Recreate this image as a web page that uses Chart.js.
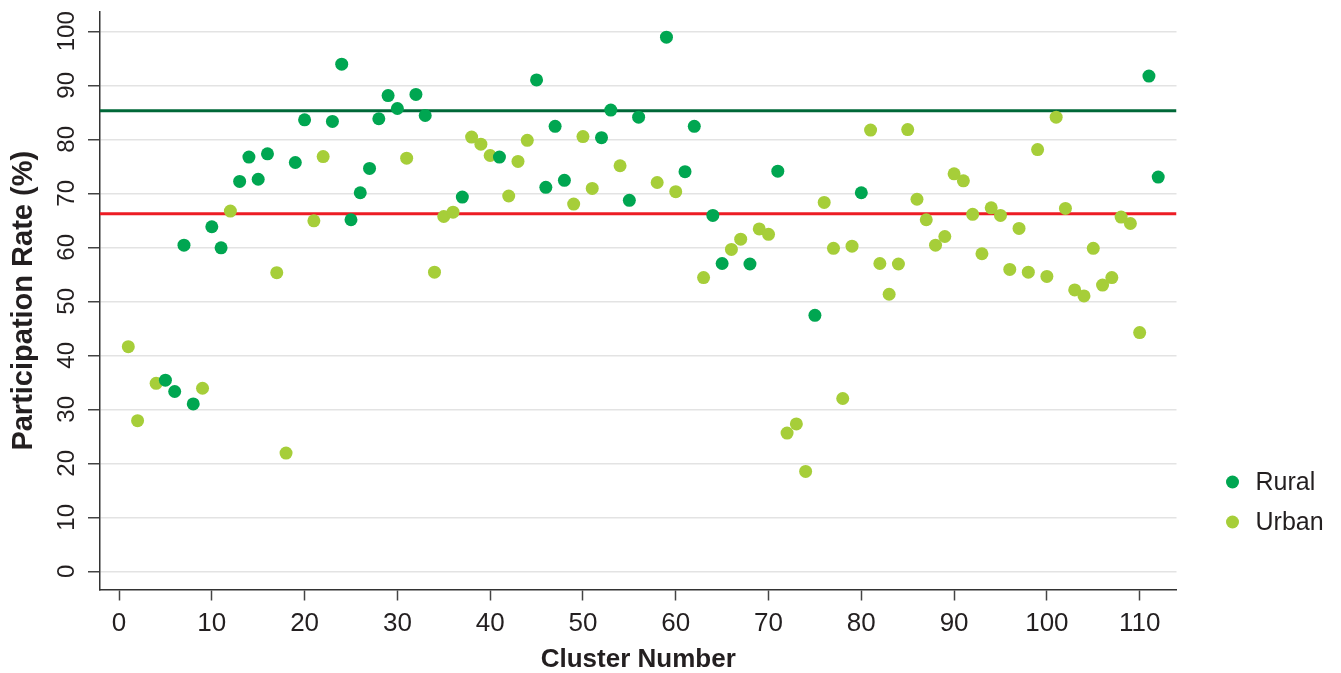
<!DOCTYPE html>
<html lang="en">
<head>
    <meta charset="UTF-8">
    <title>Participation Rate by Cluster</title>
    <script src="https://cdn.jsdelivr.net/npm/chart.js"></script>
    <style>
        body { margin: 0; background: #fff; }
    </style>
</head>
<body>
    <canvas id="rateChart" width="1341" height="673"></canvas>

<script>
// Rural clusters and their participation rate (%)
const ruralClusters = [5, 6, 7, 8, 10, 11, 13, 14, 15, 16, 19, 20, 23, 24, 25, 26, 27, 28, 29, 30,
    32, 33, 37, 41, 45, 46, 47, 48, 52, 53, 55, 56, 59, 61, 62, 64, 65, 68, 71, 75, 80, 111, 112];
const ruralRates = [35.4, 33.3, 60.4, 31.0, 63.8, 59.9, 72.2, 76.7, 72.6, 77.3, 75.7, 83.6, 83.3, 93.9, 65.1, 70.1, 74.6, 83.8, 88.1, 85.7,
    88.3, 84.4, 69.3, 76.7, 91.0, 71.1, 82.4, 72.4, 80.3, 85.4, 68.7, 84.1, 98.9, 74.0, 82.4, 65.9, 57.0, 56.9, 74.1, 47.4, 70.1, 91.7, 73.0];

// Urban clusters and their participation rate (%)
const urbanClusters = [1, 2, 4, 9, 12, 17, 18, 21, 22, 31, 34, 35, 36, 38, 39, 40, 42, 43, 44, 49,
    50, 51, 54, 58, 60, 63, 66, 67, 69, 70, 72, 73, 74, 76, 77, 78, 79, 81, 82, 83,
    84, 85, 86, 87, 88, 89, 90, 91, 92, 93, 94, 95, 96, 97, 98, 99, 100, 101, 102, 103,
    104, 105, 106, 107, 108, 109, 110];
const urbanRates = [41.6, 27.9, 34.8, 33.9, 66.7, 55.3, 21.9, 64.9, 76.8, 76.5, 55.4, 65.7, 66.5, 80.4, 79.1, 77.0, 69.5, 75.9, 79.8, 68.0,
    80.5, 70.9, 75.1, 72.0, 70.3, 54.4, 59.6, 61.5, 63.4, 62.4, 25.6, 27.3, 18.5, 68.3, 59.8, 32.0, 60.2, 81.7, 57.0, 51.3,
    56.9, 81.8, 68.9, 65.1, 60.4, 62.0, 73.6, 72.3, 66.1, 58.8, 67.3, 65.9, 55.9, 63.5, 55.4, 78.1, 54.6, 84.1, 67.2, 52.1,
    51.0, 59.8, 53.0, 54.4, 65.6, 64.4, 44.2];

// reference lines
const ruralLine = 85.3;
const urbanLine = 66.2;

// axes
const xTicks = [0, 10, 20, 30, 40, 50, 60, 70, 80, 90, 100, 110];
const yTicks = [0, 10, 20, 30, 40, 50, 60, 70, 80, 90, 100];
const xMin = -2.05, xMax = 113.97;
const yMin = -3.37, yMax = 103.57;

const FONT = "'Liberation Sans', Arial, Helvetica, sans-serif";
const ruralColor = '#00a651';
const urbanColor = '#a6ce39';

function toPoints(xs, ys) {
    return xs.map((x, i) => ({ x: x, y: ys[i] }));
}

// small legend on the right, drawn after the chart
const sideLegend = {
    id: 'sideLegend',
    afterDraw(chart) {
        const ctx = chart.ctx;
        const items = chart.data.datasets.filter(d => d.type === 'scatter');
        const left = chart.chartArea.right;
        ctx.save();
        ctx.font = '25px ' + FONT;
        ctx.textBaseline = 'middle';
        ctx.textAlign = 'left';
        items.forEach((d, i) => {
            const y = 482 + i * 40;
            ctx.beginPath();
            ctx.fillStyle = d.backgroundColor;
            ctx.arc(left + 56, y, 6.5, 0, Math.PI * 2);
            ctx.fill();
            ctx.fillStyle = '#231f20';
            ctx.fillText(d.label, left + 79, y + 1);
        });
        ctx.restore();
    }
};

const ctx = document.getElementById('rateChart').getContext('2d');
new Chart(ctx, {
    type: 'scatter',
    data: {
        datasets: [
            {
                type: 'scatter',
                label: 'Rural',
                data: toPoints(ruralClusters, ruralRates),
                backgroundColor: ruralColor,
                pointRadius: 6.5,
                pointBorderWidth: 0,
                order: 0
            },
            {
                type: 'scatter',
                label: 'Urban',
                data: toPoints(urbanClusters, urbanRates),
                backgroundColor: urbanColor,
                pointRadius: 6.5,
                pointBorderWidth: 0,
                order: 0
            },
            {
                type: 'line',
                label: 'Rural reference',
                data: [{ x: xMin, y: ruralLine }, { x: xMax, y: ruralLine }],
                borderColor: '#006838',
                borderWidth: 3,
                pointRadius: 0,
                fill: false,
                order: 1
            },
            {
                type: 'line',
                label: 'Urban reference',
                data: [{ x: xMin, y: urbanLine }, { x: xMax, y: urbanLine }],
                borderColor: '#ed1c24',
                borderWidth: 3,
                pointRadius: 0,
                fill: false,
                order: 1
            }
        ]
    },
    options: {
        responsive: false,
        animation: false,
        devicePixelRatio: 1,
        layout: { padding: { left: 0, right: 164.5, top: 12, bottom: 0 } },
        scales: {
            x: {
                type: 'linear',
                min: xMin,
                max: xMax,
                afterBuildTicks: s => { s.ticks = xTicks.map(v => ({ value: v })); },
                afterFit: s => { s.height = 83.5; s.paddingLeft = 0; s.paddingRight = 0; },
                grid: { drawOnChartArea: false, tickLength: 11, tickColor: '#444', tickWidth: 1.5 },
                border: { color: '#333', width: 1.5 },
                ticks: {
                    padding: 8,
                    color: '#231f20',
                    font: { family: FONT, size: 26 },
                    maxRotation: 0
                },
                title: {
                    display: true,
                    text: 'Cluster Number',
                    color: '#231f20',
                    font: { family: FONT, size: 26, weight: 'bold', lineHeight: 1 },
                    padding: { top: 0, bottom: 0 }
                }
            },
            y: {
                min: yMin,
                max: yMax,
                afterBuildTicks: s => { s.ticks = yTicks.map(v => ({ value: v })); },
                afterFit: s => { s.width = 100; s.paddingTop = 0; s.paddingBottom = 0; },
                grid: { color: '#e3e3e3', lineWidth: 1.5, tickLength: 12, tickColor: '#444', tickWidth: 1.5 },
                border: { color: '#333', width: 1.5 },
                ticks: {
                    padding: 1,
                    color: '#231f20',
                    crossAlign: 'center',
                    minRotation: 90,
                    maxRotation: 90,
                    font: { family: FONT, size: 24 }
                },
                title: {
                    display: true,
                    text: 'Participation Rate (%)',
                    color: '#231f20',
                    font: { family: FONT, size: 29, weight: 'bold', lineHeight: 1 },
                    padding: { top: 9, bottom: 0 }
                }
            }
        },
        plugins: {
            legend: { display: false },
            tooltip: { enabled: false }
        }
    },
    plugins: [sideLegend]
});
</script>
</body>
</html>
